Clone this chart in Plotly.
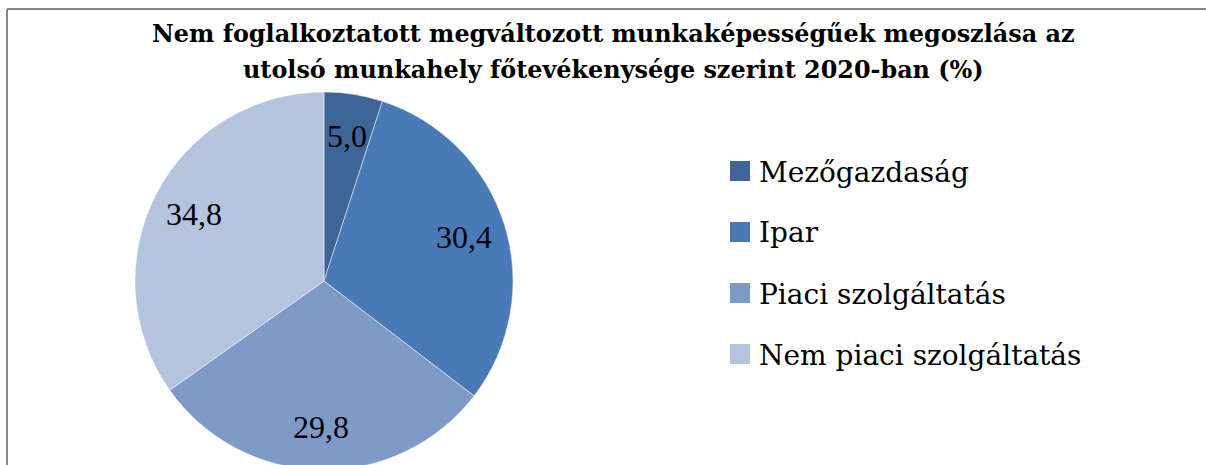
import math
import plotly.graph_objects as go

categories = ["Mezőgazdaság", "Ipar", "Piaci szolgáltatás", "Nem piaci szolgáltatás"]
values = [5.0, 30.4, 29.8, 34.8]
colors = ["#3D6596", "#4A7AB5", "#7E9BC7", "#B4C3DE"]
title_lines = ["Nem foglalkoztatott megváltozott munkaképességűek megoszlása az",
               "utolsó munkahely főtevékenysége szerint 2020-ban (%)"]

W, H = 1206, 480


def px(x):
    return x / W


def py(y):
    return 1 - y / H


# pie geometry (pixels)
cx, cy, R = 324, 281, 189

fig = go.Figure()
fig.add_trace(go.Pie(
    labels=categories, values=values, sort=False, direction="clockwise", rotation=0,
    marker=dict(colors=colors, line=dict(color="rgba(255,255,255,0.6)", width=0.8)),
    textinfo="none", hoverinfo="label+value", showlegend=False,
    domain=dict(x=[px(cx - R), px(cx + R)], y=[py(cy + R), py(cy - R)]),
))

annotations = []
# data labels
total = sum(values)
cum = 0.0
for v in values:
    mid = (cum + v / 2) / total * 2 * math.pi
    cum += v
    r = 0.775 * R
    lx = cx + r * math.sin(mid)
    ly = cy - r * math.cos(mid)
    annotations.append(dict(
        x=px(lx), y=py(ly), xref="paper", yref="paper", showarrow=False,
        text=f"{v:.1f}".replace(".", ","), xanchor="center", yanchor="middle",
        font=dict(family="Liberation Serif", size=32, color="#000000")))

# title
for i, line in enumerate(title_lines):
    annotations.append(dict(
        x=px(613), y=py(34 + 36 * i), xref="paper", yref="paper", showarrow=False,
        text=f"<b>{line}</b>", xanchor="center", yanchor="middle",
        font=dict(family="DejaVu Serif", size=23.9, color="#000000")))

shapes = []
# legend
leg_y = [171, 232, 293, 354]
for cat, col, ly in zip(categories, colors, leg_y):
    shapes.append(dict(type="rect", xref="paper", yref="paper",
                       x0=px(730), x1=px(750), y0=py(ly - 10), y1=py(ly + 10),
                       fillcolor=col, line=dict(width=0)))
    annotations.append(dict(
        x=px(757), y=py(ly + 1), xref="paper", yref="paper", showarrow=False,
        text=cat, xanchor="left", yanchor="middle",
        font=dict(family="DejaVu Serif", size=28, color="#000000")))

# chart border (open to the right and bottom, as in the cropped original)
shapes.append(dict(type="line", xref="paper", yref="paper",
                   x0=px(7), x1=1, y0=py(9), y1=py(9),
                   line=dict(color="#878787", width=2)))
shapes.append(dict(type="line", xref="paper", yref="paper",
                   x0=px(7), x1=px(7), y0=py(9), y1=0,
                   line=dict(color="#878787", width=2)))

fig.update_layout(
    width=W, height=H, margin=dict(l=0, r=0, t=0, b=0),
    paper_bgcolor="white", plot_bgcolor="white",
    annotations=annotations, shapes=shapes, showlegend=False,
)

fig.write_html(
    "out.html",
    config={"displayModeBar": False},
    post_script="document.body.style.margin='0';document.body.style.overflow='hidden';"
                "document.documentElement.style.overflow='hidden';",
)
